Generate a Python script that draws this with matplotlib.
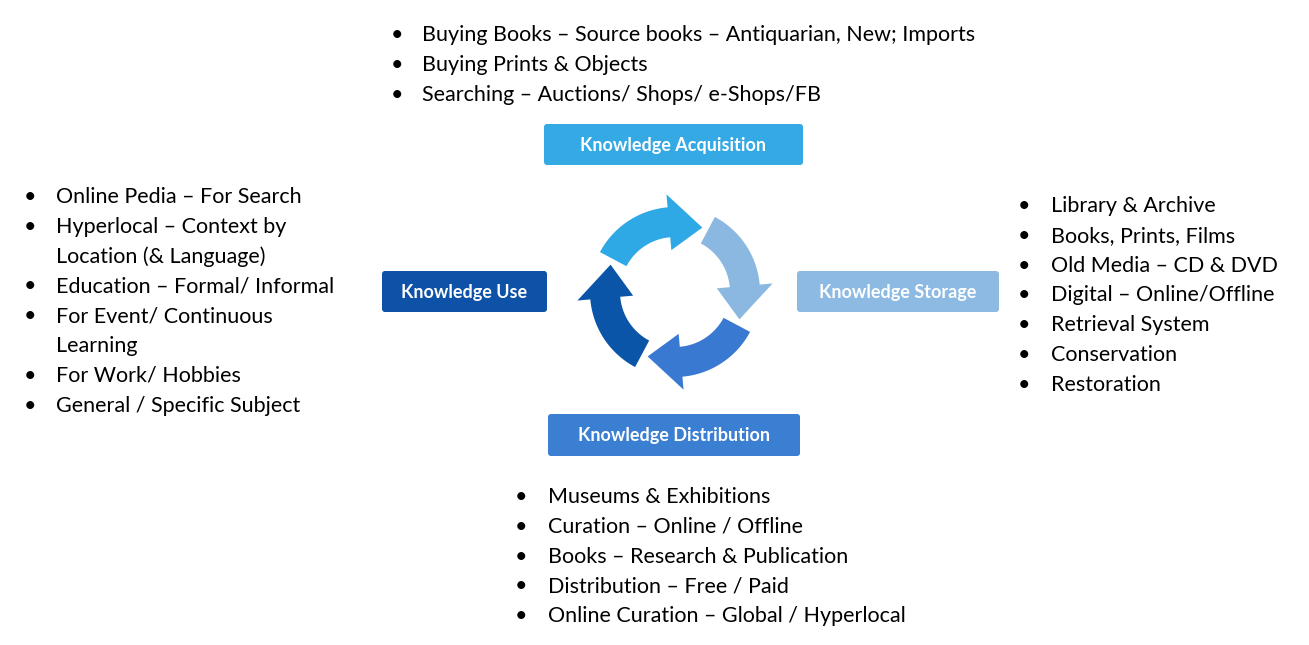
import numpy as np
import matplotlib.pyplot as plt
from matplotlib.patches import Polygon, FancyBboxPatch

# ---- content ----
BOX_LABELS = ["Knowledge Acquisition", "Knowledge Storage", "Knowledge Distribution", "Knowledge Use"]
BOX_COLORS = ["#35a9e3", "#8cbae3", "#3b7fd2", "#0d52a6"]
ARROW_COLORS = ["#2fa8e6", "#8ab8e0", "#3a79d2", "#0b55a8"]

TOP_ITEMS = ["Buying Books – Source books – Antiquarian, New; Imports",
             "Buying Prints & Objects",
             "Searching – Auctions/ Shops/ e-Shops/FB"]
LEFT_ITEMS = ["Online Pedia – For Search",
              "Hyperlocal – Context by\nLocation (& Language)",
              "Education – Formal/ Informal",
              "For Event/ Continuous\nLearning",
              "For Work/ Hobbies",
              "General / Specific Subject"]
RIGHT_ITEMS = ["Library & Archive", "Books, Prints, Films", "Old Media – CD & DVD",
               "Digital – Online/Offline", "Retrieval System", "Conservation", "Restoration"]
BOTTOM_ITEMS = ["Museums & Exhibitions", "Curation – Online / Offline",
                "Books – Research & Publication", "Distribution – Free / Paid",
                "Online Curation – Global / Hyperlocal"]

W, H = 1309, 645
fig = plt.figure(figsize=(W / 100, H / 100), dpi=100)
ax = fig.add_axes([0, 0, 1, 1])
ax.set_xlim(0, W)
ax.set_ylim(H, 0)
ax.axis("off")

FONT = "Lato"
FS = 15.5
LINE = 29.8

def bullets(items, xb, xt, y0):
    y = y0
    for it in items:
        ax.text(xb, y, "•", fontsize=FS, family=FONT, va="center", ha="center")
        for ln in it.split("\n"):
            ax.text(xt, y, ln, fontsize=FS, family=FONT, va="center", ha="left")
            y += LINE

bullets(TOP_ITEMS, 397, 422, 35)
bullets(LEFT_ITEMS, 30, 56, 197)
bullets(RIGHT_ITEMS, 1024, 1051, 206)
bullets(BOTTOM_ITEMS, 521, 548, 497)

# ---- boxes (x0, y0, x1, y1) ----
boxes = [(544, 124, 803, 165), (797, 271, 999, 312), (548, 414, 800, 456), (382, 271, 547, 312)]
for (x0, y0, x1, y1), lab, c in zip(boxes, BOX_LABELS, BOX_COLORS):
    ax.add_patch(FancyBboxPatch((x0, y0), x1 - x0, y1 - y0,
                                boxstyle="round,pad=0,rounding_size=3", fc=c, ec="none"))
    ax.text((x0 + x1) / 2, (y0 + y1) / 2 + 1, lab, color="white", fontsize=13,
            fontweight="bold", family=FONT, ha="center", va="center")

# ---- cycle arrows ----
cx, cy = 675, 292
r_in, r_out = 55, 85
h_in, h_out = 42, 98
starts = [-152, -62, 28, 118]
for s, c in zip(starts, ARROW_COLORS):
    body = np.radians(np.linspace(s, s + 58, 40))
    pts = [(cx + r_out * np.cos(t), cy + r_out * np.sin(t)) for t in body]
    pts += [(cx + r_in * np.cos(t), cy + r_in * np.sin(t)) for t in body[::-1]]
    ax.add_patch(Polygon(pts, closed=True, fc=c, ec="none"))
    hb = np.radians(s + 57)
    tip = np.radians(s + 85)
    rm = (r_in + r_out) / 2
    head = [(cx + h_in * np.cos(hb), cy + h_in * np.sin(hb)),
            (cx + h_out * np.cos(hb), cy + h_out * np.sin(hb)),
            (cx + rm * np.cos(tip), cy + rm * np.sin(tip))]
    ax.add_patch(Polygon(head, closed=True, fc=c, ec="none"))

fig.savefig("out.png", dpi=100)
